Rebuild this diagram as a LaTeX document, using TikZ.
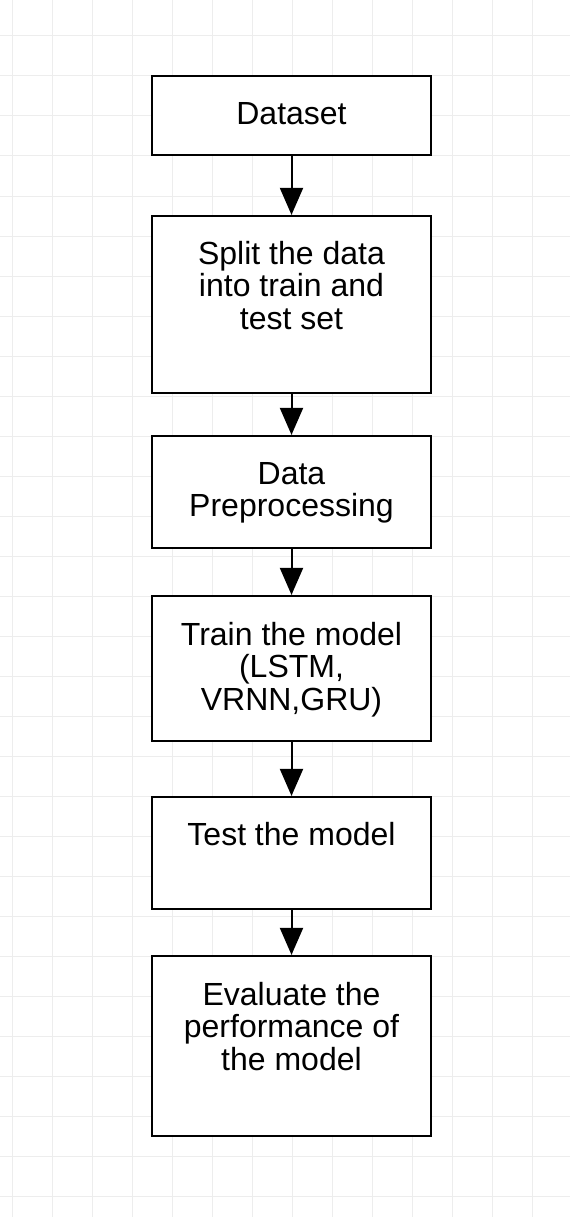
\documentclass[tikz,border=0pt]{standalone}
\usepackage{fontspec}
\setmainfont{Liberation Sans}
\usetikzlibrary{arrows.meta}
\begin{document}
\begin{tikzpicture}[x=1pt,y=-1pt,
  gridline/.style={draw=black!7, line width=1pt},
  box/.style={draw=black, line width=2.2pt, fill=white, minimum width=279pt, inner sep=0pt},
  txt/.style={font=\fontsize{32}{32.5}\selectfont, align=center, inner sep=0pt, anchor=base},
  arr/.style={line width=2pt, -{Triangle[length=27pt,width=23pt]}}
]
\useasboundingbox (0,0) rectangle (570,1217);
\fill[white] (0,0) rectangle (570,1217);
\foreach \x in {12,52,...,532} \draw[gridline] (\x,0) -- (\x,1217);
\foreach \y in {36,76,...,1196} \draw[gridline] (0,\y) -- (570,\y);

\node[box, minimum height=79pt]  (b1) at (291.5,115.5) {};
\node[box, minimum height=177pt] (b2) at (291.5,304.5) {};
\node[box, minimum height=112pt] (b3) at (291.5,492) {};
\node[box, minimum height=145pt] (b4) at (291.5,668.5) {};
\node[box, minimum height=112pt] (b5) at (291.5,853) {};
\node[box, minimum height=180pt] (b6) at (291.5,1046) {};

\node[txt] (t1) at (291.5,124.3) {Dataset};
\node[txt] (t2) at (291.5,329.3) {Split the data\\into train and\\test set};
\node[txt] (t3) at (291.5,516.7) {Data\\Preprocessing};
\node[txt] (t4) at (291.5,710) {Train the model\\(LSTM,\\VRNN,GRU)};
\node[txt] (t5) at (291.5,845) {Test the model};
\node[txt] (t6) at (291.5,1070) {Evaluate the\\performance of\\the model};

\draw[arr] (b1.south) -- (b2.north);
\draw[arr] (b2.south) -- (b3.north);
\draw[arr] (b3.south) -- (b4.north);
\draw[arr] (b4.south) -- (b5.north);
\draw[arr] (b5.south) -- (b6.north);
\end{tikzpicture}
\end{document}
